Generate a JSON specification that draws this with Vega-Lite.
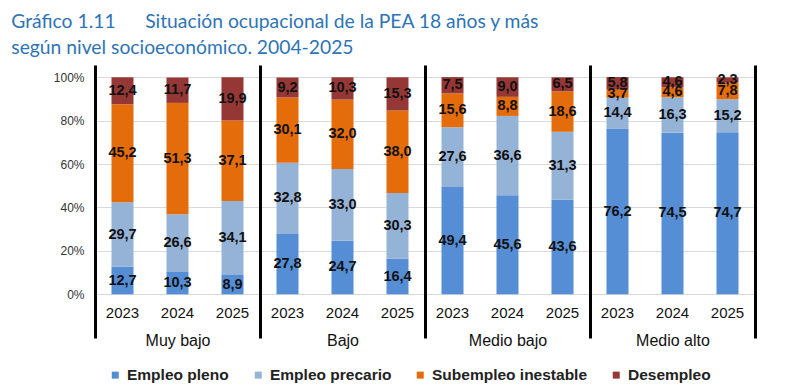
{
  "$schema": "https://vega.github.io/schema/vega-lite/v6.json",
  "padding": {"left": 11, "top": 12, "right": 5, "bottom": 2},
  "title": {
    "text": ["Gráfico 1.11\u00a0\u00a0\u00a0\u00a0\u00a0 Situación ocupacional de la PEA 18 años y más", "según nivel socioeconómico. 2004-2025"],
    "anchor": "start",
    "dx": -42,
    "offset": 7,
    "font": "Lato",
    "fontSize": 19.3,
    "fontWeight": "normal",
    "lineHeight": 26,
    "color": "#2e74b5"
  },
  "data": {
    "values": [
      {"nivel": "Muy bajo", "year": "2023", "cat": "Empleo pleno", "order": 1, "value": 12.7},
      {"nivel": "Muy bajo", "year": "2023", "cat": "Empleo precario", "order": 2, "value": 29.7},
      {"nivel": "Muy bajo", "year": "2023", "cat": "Subempleo inestable", "order": 3, "value": 45.2},
      {"nivel": "Muy bajo", "year": "2023", "cat": "Desempleo", "order": 4, "value": 12.4},
      {"nivel": "Muy bajo", "year": "2024", "cat": "Empleo pleno", "order": 1, "value": 10.3},
      {"nivel": "Muy bajo", "year": "2024", "cat": "Empleo precario", "order": 2, "value": 26.6},
      {"nivel": "Muy bajo", "year": "2024", "cat": "Subempleo inestable", "order": 3, "value": 51.3},
      {"nivel": "Muy bajo", "year": "2024", "cat": "Desempleo", "order": 4, "value": 11.7},
      {"nivel": "Muy bajo", "year": "2025", "cat": "Empleo pleno", "order": 1, "value": 8.9},
      {"nivel": "Muy bajo", "year": "2025", "cat": "Empleo precario", "order": 2, "value": 34.1},
      {"nivel": "Muy bajo", "year": "2025", "cat": "Subempleo inestable", "order": 3, "value": 37.1},
      {"nivel": "Muy bajo", "year": "2025", "cat": "Desempleo", "order": 4, "value": 19.9},
      {"nivel": "Bajo", "year": "2023", "cat": "Empleo pleno", "order": 1, "value": 27.8},
      {"nivel": "Bajo", "year": "2023", "cat": "Empleo precario", "order": 2, "value": 32.8},
      {"nivel": "Bajo", "year": "2023", "cat": "Subempleo inestable", "order": 3, "value": 30.1},
      {"nivel": "Bajo", "year": "2023", "cat": "Desempleo", "order": 4, "value": 9.2},
      {"nivel": "Bajo", "year": "2024", "cat": "Empleo pleno", "order": 1, "value": 24.7},
      {"nivel": "Bajo", "year": "2024", "cat": "Empleo precario", "order": 2, "value": 33.0},
      {"nivel": "Bajo", "year": "2024", "cat": "Subempleo inestable", "order": 3, "value": 32.0},
      {"nivel": "Bajo", "year": "2024", "cat": "Desempleo", "order": 4, "value": 10.3},
      {"nivel": "Bajo", "year": "2025", "cat": "Empleo pleno", "order": 1, "value": 16.4},
      {"nivel": "Bajo", "year": "2025", "cat": "Empleo precario", "order": 2, "value": 30.3},
      {"nivel": "Bajo", "year": "2025", "cat": "Subempleo inestable", "order": 3, "value": 38.0},
      {"nivel": "Bajo", "year": "2025", "cat": "Desempleo", "order": 4, "value": 15.3},
      {"nivel": "Medio bajo", "year": "2023", "cat": "Empleo pleno", "order": 1, "value": 49.4},
      {"nivel": "Medio bajo", "year": "2023", "cat": "Empleo precario", "order": 2, "value": 27.6},
      {"nivel": "Medio bajo", "year": "2023", "cat": "Subempleo inestable", "order": 3, "value": 15.6},
      {"nivel": "Medio bajo", "year": "2023", "cat": "Desempleo", "order": 4, "value": 7.5},
      {"nivel": "Medio bajo", "year": "2024", "cat": "Empleo pleno", "order": 1, "value": 45.6},
      {"nivel": "Medio bajo", "year": "2024", "cat": "Empleo precario", "order": 2, "value": 36.6},
      {"nivel": "Medio bajo", "year": "2024", "cat": "Subempleo inestable", "order": 3, "value": 8.8},
      {"nivel": "Medio bajo", "year": "2024", "cat": "Desempleo", "order": 4, "value": 9.0},
      {"nivel": "Medio bajo", "year": "2025", "cat": "Empleo pleno", "order": 1, "value": 43.6},
      {"nivel": "Medio bajo", "year": "2025", "cat": "Empleo precario", "order": 2, "value": 31.3},
      {"nivel": "Medio bajo", "year": "2025", "cat": "Subempleo inestable", "order": 3, "value": 18.6},
      {"nivel": "Medio bajo", "year": "2025", "cat": "Desempleo", "order": 4, "value": 6.5},
      {"nivel": "Medio alto", "year": "2023", "cat": "Empleo pleno", "order": 1, "value": 76.2},
      {"nivel": "Medio alto", "year": "2023", "cat": "Empleo precario", "order": 2, "value": 14.4},
      {"nivel": "Medio alto", "year": "2023", "cat": "Subempleo inestable", "order": 3, "value": 3.7},
      {"nivel": "Medio alto", "year": "2023", "cat": "Desempleo", "order": 4, "value": 5.8},
      {"nivel": "Medio alto", "year": "2024", "cat": "Empleo pleno", "order": 1, "value": 74.5},
      {"nivel": "Medio alto", "year": "2024", "cat": "Empleo precario", "order": 2, "value": 16.3},
      {"nivel": "Medio alto", "year": "2024", "cat": "Subempleo inestable", "order": 3, "value": 4.6},
      {"nivel": "Medio alto", "year": "2024", "cat": "Desempleo", "order": 4, "value": 4.6},
      {"nivel": "Medio alto", "year": "2025", "cat": "Empleo pleno", "order": 1, "value": 74.7},
      {"nivel": "Medio alto", "year": "2025", "cat": "Empleo precario", "order": 2, "value": 15.2},
      {"nivel": "Medio alto", "year": "2025", "cat": "Subempleo inestable", "order": 3, "value": 7.8},
      {"nivel": "Medio alto", "year": "2025", "cat": "Desempleo", "order": 4, "value": 2.3}
    ]
  },
  "transform": [
    {"stack": "value", "groupby": ["nivel", "year"], "sort": [{"field": "order", "order": "ascending"}], "as": ["v0", "v1"]}
  ],
  "spacing": 0,
  "hconcat": [
    {
      "width": 165, "height": 273,
      "transform": [{"filter": "datum.nivel === 'Muy bajo'"}],
      "encoding": {
        "x": {"field": "year", "type": "nominal", "scale": {"paddingInner": 0.6, "paddingOuter": 0.3}, "axis": {"title": "Muy bajo"}}
      },
      "layer": [
        {"mark": {"type": "bar"},
         "encoding": {
           "y": {"field": "v0", "type": "quantitative", "scale": {"domain": [-20.14, 105.67], "nice": false, "zero": false},
                 "axis": {"values": [0, 20, 40, 60, 80, 100], "labelExpr": "datum.value + '%'", "labels": true}},
           "y2": {"field": "v1"},
           "color": {"field": "cat", "type": "nominal", "sort": ["Empleo pleno", "Empleo precario", "Subempleo inestable", "Desempleo"],
                     "scale": {"domain": ["Empleo pleno", "Empleo precario", "Subempleo inestable", "Desempleo"], "range": ["#558ed5", "#95b3d7", "#e46c0a", "#953735"]},
                     "legend": {"title": null}}}},
        {"transform": [
           {"fold": ["v0", "v1"], "as": ["edge", "pos"]},
           {"aggregate": [{"op": "mean", "field": "pos", "as": "mid"}], "groupby": ["year", "cat", "value"]}
         ],
         "mark": {"type": "text"},
         "encoding": {
           "y": {"field": "mid", "type": "quantitative", "scale": {"domain": [-20.14, 105.67], "nice": false, "zero": false}},
           "text": {"field": "value", "type": "quantitative", "format": ".1f"}}}
      ]
    },
    {
      "width": 165, "height": 273,
      "transform": [{"filter": "datum.nivel === 'Bajo'"}],
      "encoding": {
        "x": {"field": "year", "type": "nominal", "scale": {"paddingInner": 0.6, "paddingOuter": 0.3}, "axis": {"title": "Bajo"}}
      },
      "layer": [
        {"mark": {"type": "bar"},
         "encoding": {
           "y": {"field": "v0", "type": "quantitative", "scale": {"domain": [-20.14, 105.67], "nice": false, "zero": false},
                 "axis": {"values": [0, 20, 40, 60, 80, 100], "labels": false}},
           "y2": {"field": "v1"},
           "color": {"field": "cat", "type": "nominal", "sort": ["Empleo pleno", "Empleo precario", "Subempleo inestable", "Desempleo"],
                     "scale": {"domain": ["Empleo pleno", "Empleo precario", "Subempleo inestable", "Desempleo"], "range": ["#558ed5", "#95b3d7", "#e46c0a", "#953735"]},
                     "legend": {"title": null}}}},
        {"transform": [
           {"fold": ["v0", "v1"], "as": ["edge", "pos"]},
           {"aggregate": [{"op": "mean", "field": "pos", "as": "mid"}], "groupby": ["year", "cat", "value"]}
         ],
         "mark": {"type": "text"},
         "encoding": {
           "y": {"field": "mid", "type": "quantitative", "scale": {"domain": [-20.14, 105.67], "nice": false, "zero": false}},
           "text": {"field": "value", "type": "quantitative", "format": ".1f"}}}
      ]
    },
    {
      "width": 165, "height": 273,
      "transform": [{"filter": "datum.nivel === 'Medio bajo'"}],
      "encoding": {
        "x": {"field": "year", "type": "nominal", "scale": {"paddingInner": 0.6, "paddingOuter": 0.3}, "axis": {"title": "Medio bajo"}}
      },
      "layer": [
        {"mark": {"type": "bar"},
         "encoding": {
           "y": {"field": "v0", "type": "quantitative", "scale": {"domain": [-20.14, 105.67], "nice": false, "zero": false},
                 "axis": {"values": [0, 20, 40, 60, 80, 100], "labels": false}},
           "y2": {"field": "v1"},
           "color": {"field": "cat", "type": "nominal", "sort": ["Empleo pleno", "Empleo precario", "Subempleo inestable", "Desempleo"],
                     "scale": {"domain": ["Empleo pleno", "Empleo precario", "Subempleo inestable", "Desempleo"], "range": ["#558ed5", "#95b3d7", "#e46c0a", "#953735"]},
                     "legend": {"title": null}}}},
        {"transform": [
           {"fold": ["v0", "v1"], "as": ["edge", "pos"]},
           {"aggregate": [{"op": "mean", "field": "pos", "as": "mid"}], "groupby": ["year", "cat", "value"]}
         ],
         "mark": {"type": "text"},
         "encoding": {
           "y": {"field": "mid", "type": "quantitative", "scale": {"domain": [-20.14, 105.67], "nice": false, "zero": false}},
           "text": {"field": "value", "type": "quantitative", "format": ".1f"}}}
      ]
    },
    {
      "width": 165, "height": 273,
      "transform": [{"filter": "datum.nivel === 'Medio alto'"}],
      "encoding": {
        "x": {"field": "year", "type": "nominal", "scale": {"paddingInner": 0.6, "paddingOuter": 0.3}, "axis": {"title": "Medio alto"}}
      },
      "layer": [
        {"mark": {"type": "bar"},
         "encoding": {
           "y": {"field": "v0", "type": "quantitative", "scale": {"domain": [-20.14, 105.67], "nice": false, "zero": false},
                 "axis": {"values": [0, 20, 40, 60, 80, 100], "labels": false}},
           "y2": {"field": "v1"},
           "color": {"field": "cat", "type": "nominal", "sort": ["Empleo pleno", "Empleo precario", "Subempleo inestable", "Desempleo"],
                     "scale": {"domain": ["Empleo pleno", "Empleo precario", "Subempleo inestable", "Desempleo"], "range": ["#558ed5", "#95b3d7", "#e46c0a", "#953735"]},
                     "legend": {"title": null}}}},
        {"transform": [
           {"fold": ["v0", "v1"], "as": ["edge", "pos"]},
           {"aggregate": [{"op": "mean", "field": "pos", "as": "mid"}], "groupby": ["year", "cat", "value"]}
         ],
         "mark": {"type": "text"},
         "encoding": {
           "y": {"field": "mid", "type": "quantitative", "scale": {"domain": [-20.14, 105.67], "nice": false, "zero": false},
                 "axis": {"orient": "right", "values": [0, 20, 40, 60, 80, 100], "labels": false, "grid": false}},
           "text": {"field": "value", "type": "quantitative", "format": ".1f"}}}
      ],
      "resolve": {"axis": {"y": "independent"}}
    }
  ],
  "config": {
    "locale": {"number": {"decimal": ",", "thousands": ".", "grouping": [3], "currency": ["", " €"]}},
    "view": {"stroke": null},
    "text": {"font": "Liberation Sans", "fontSize": 14.5, "fontWeight": "bold", "color": "#111111"},
    "axisX": {
      "labelAngle": 0, "labelFont": "Liberation Sans", "labelFontSize": 15, "labelColor": "#111111",
      "ticks": false, "tickSize": 0, "domain": false, "grid": false, "labelPadding": 11.5, "offset": -44,
      "titleFont": "Liberation Sans", "titleFontSize": 16, "titleFontWeight": "normal", "titleColor": "#111111", "titlePadding": 11.5
    },
    "axisY": {
      "title": null, "labelFont": "Liberation Sans", "labelFontSize": 12, "labelColor": "#333333",
      "ticks": false, "tickSize": 0, "labelPadding": 11, "domainColor": "#000000", "domainWidth": 3,
      "gridColor": "#d9d9d9", "gridWidth": 1
    },
    "legend": {
      "orient": "none", "legendX": 12.5, "legendY": 302, "padding": 0, "direction": "horizontal", "symbolType": "square", "symbolSize": 49,
      "symbolStrokeWidth": 0, "labelFont": "Liberation Sans", "labelFontSize": 15.5, "labelFontWeight": "bold",
      "labelColor": "#222222", "labelOffset": 4, "columnPadding": 21, "labelLimit": 300
    }
  }
}
